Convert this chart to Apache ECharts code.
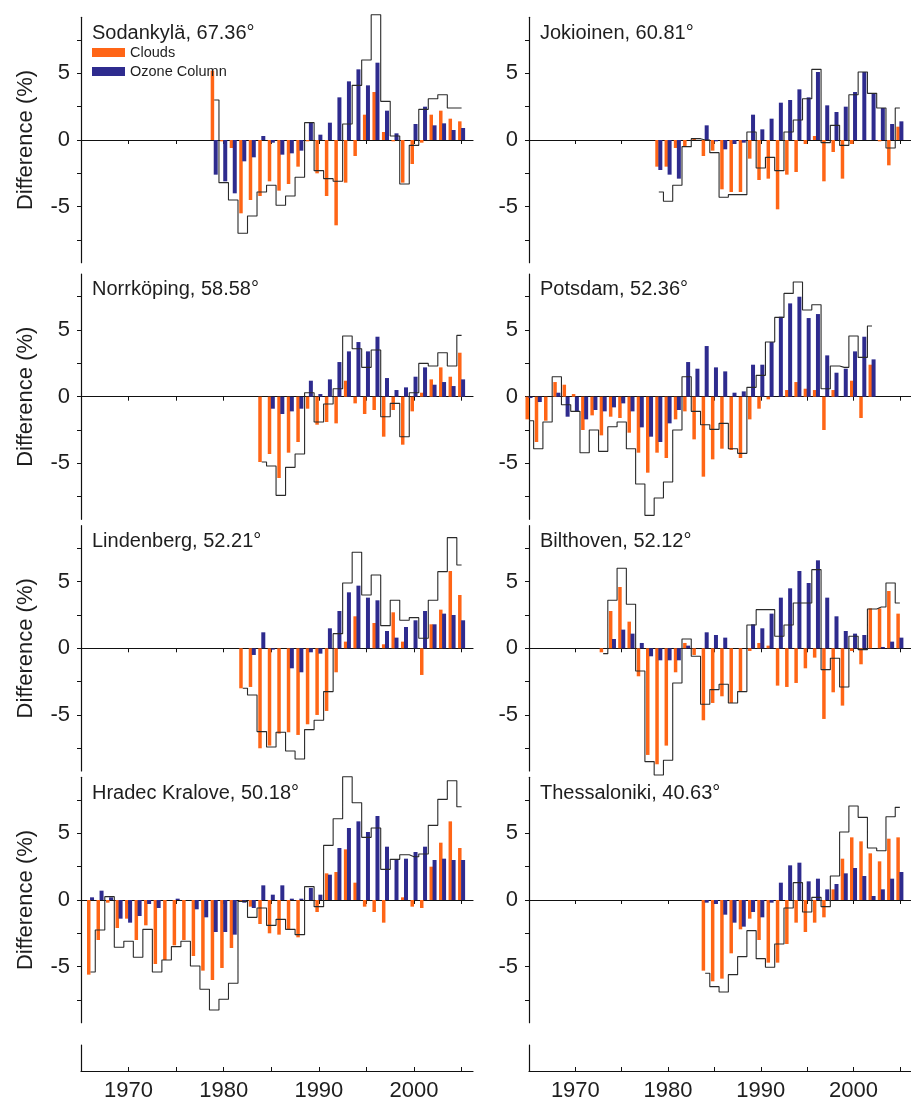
<!DOCTYPE html>
<html><head><meta charset="utf-8">
<script src="https://cdn.jsdelivr.net/npm/echarts@6/dist/echarts.min.js"></script>
<style>html,body{margin:0;padding:0;background:#fff}#c{width:911px;height:1102px}</style>
</head><body><div id="c"></div>
<script>
// ---------- data ----------
const stationNames = ['Sodankylä','Jokioinen','Norrköping','Potsdam','Lindenberg','Bilthoven','Hradec Kralove','Thessaloniki'];
const latitudes = ['67.36','60.81','58.58','52.36','52.21','52.12','50.18','40.63'];
const startYears = [1979,1979,1984,1965,1982,1973,1966,1984];
const panelTickYears = [1970,1975,1980,1985,1990,1995,2000,2005];
const xLabelYears = [1970,1980,1990,2000];
const yLabelValues = [-5,0,5];
const yTickValues = [-7.5,-5,-2.5,0,2.5,5,7.5];

const sodankylaClouds = [5.2,-0.1,-0.6,-5.5,-4.5,-4.2,-3.1,-3.8,-3.3,-2.0,-0.1,-2.5,-4.2,-6.4,-3.2,-1.2,1.9,3.6,0.6,-0.1,-3.2,-1.8,-0.2,1.9,2.2,1.6,1.4];
const sodankylaOzone  = [-2.6,-3.1,-4.0,-1.6,-1.3,0.3,-0.2,-1.1,-1.0,-0.8,1.3,0.4,1.3,3.2,4.4,5.3,4.1,5.8,2.2,0.5,0.0,1.2,2.5,1.1,1.25,0.75,0.9];
const sodankylaTotal  = [3.0,-3.2,-4.5,-7.0,-5.7,-3.9,-3.4,-4.9,-4.2,-2.8,1.3,-2.3,-2.9,-3.1,1.2,4.1,6.0,9.4,2.9,0.3,-3.3,-0.4,2.3,3.1,3.4,2.4,2.4];

const jokioinenClouds = [-2.0,-2.0,-0.6,-0.5,0.1,-1.2,-0.8,-3.7,-3.9,-3.9,-1.4,-3.0,-2.9,-5.2,-2.6,-2.4,-0.3,0.3,-3.1,-0.9,-2.9,-0.3,0.0,0.0,-0.1,-1.9,1.0];
const jokioinenOzone  = [-2.25,-2.6,-2.9,0.0,0.0,1.1,-0.1,-0.7,-0.3,-0.2,1.9,0.8,1.6,2.8,3.0,3.8,3.2,5.1,2.6,2.1,2.5,3.6,5.1,3.5,2.4,1.2,1.4];
const jokioinenTotal  = [-3.9,-4.6,-3.4,-0.5,0.1,0.0,-0.95,-4.3,-4.1,-4.1,0.6,-2.1,-1.3,-2.3,0.6,1.5,3.1,5.3,-0.2,1.1,-0.4,3.4,5.1,3.5,2.4,-0.6,2.4];

const norrkopingClouds = [-4.9,-4.3,-6.1,-4.2,-3.4,-0.9,-2.1,-1.9,-2.0,1.2,-0.5,-1.3,-1.0,-3.0,-1.0,-3.6,-1.1,0.3,1.3,2.2,1.5,3.3];
const norrkopingOzone  = [0.0,-0.9,-1.3,-1.1,-0.9,1.2,0.2,1.3,2.6,3.4,4.1,3.4,4.5,1.4,0.5,0.7,1.5,2.2,0.9,1.1,0.8,1.3];
const norrkopingTotal  = [-4.9,-5.2,-7.4,-5.3,-4.3,0.3,-1.9,-0.55,0.6,4.55,3.6,2.2,3.5,-1.5,-0.5,-3.0,0.3,2.5,2.3,3.3,2.3,4.6];

const potsdamClouds = [-1.7,-3.4,-1.8,1.1,0.9,0.2,-2.5,-1.4,-2.9,-1.5,-1.6,-2.7,-4.2,-5.7,-4.2,-4.6,-1.7,-1.1,-3.2,-6.0,-4.7,-3.9,-4.0,-4.6,-1.7,-0.9,-0.2,0.0,0.5,1.1,0.6,0.5,-2.5,0.5,0.0,1.2,-1.6,2.4];
const potsdamOzone  = [-0.1,-0.4,0.0,0.3,-1.5,-1.1,-1.7,-1.0,-1.1,-0.8,-0.5,-1.1,-2.3,-3.0,-3.4,-2.0,-1.0,2.6,2.1,3.8,2.2,1.9,0.3,0.4,2.4,2.4,4.1,6.0,7.0,7.5,5.9,6.2,3.1,1.8,2.1,3.4,4.5,2.8];
const potsdamTotal  = [-1.8,-3.9,-1.9,1.5,-0.6,-1.1,-4.2,-2.5,-4.1,-2.25,-1.9,-3.9,-6.55,-8.9,-7.6,-6.4,-2.5,1.5,-1.1,-2.1,-2.45,-2.0,-3.9,-4.25,0.7,1.6,4.1,5.95,7.75,8.6,6.5,6.9,0.6,2.3,2.2,4.55,2.95,5.3];

const lindenbergClouds = [-3.0,-2.9,-7.5,-7.3,-6.4,-6.3,-6.5,-5.7,-5.0,-4.7,-1.8,0.5,2.4,0.0,1.9,0.3,2.7,0.5,0.0,-2.0,1.8,2.9,5.8,4.0];
const lindenbergOzone  = [0.0,-0.5,1.2,-0.1,0.0,-1.5,-1.8,-0.3,-0.4,1.5,2.8,4.2,4.7,3.8,3.6,1.3,0.8,1.6,2.1,2.8,1.8,2.6,2.5,2.1];
const lindenbergTotal  = [-3.0,-3.5,-6.25,-7.4,-6.3,-7.7,-8.3,-6.1,-5.4,-3.25,1.1,4.9,7.2,4.0,5.5,1.7,3.6,2.1,2.3,0.75,3.6,5.75,8.3,6.25];

const bilthovenClouds = [-0.3,2.8,4.6,2.0,-2.1,-8.0,-8.7,-7.3,-1.8,0.4,-0.5,-5.4,-4.1,-3.6,-4.1,-3.2,-0.2,0.4,0.2,-2.8,-2.9,-2.6,-1.5,-0.7,-5.3,-3.3,-4.3,-0.2,-1.2,3.0,3.0,4.3,2.6];
const bilthovenOzone  = [0.0,0.7,1.4,1.1,0.4,-0.6,-0.9,-0.9,-0.9,0.2,0.0,1.2,1.0,0.8,0.0,0.0,1.8,1.5,2.6,3.8,4.5,5.8,4.9,6.6,3.8,2.4,1.3,1.1,1.0,0.0,0.1,0.5,0.8];
const bilthovenTotal  = [-0.4,3.6,6.0,3.3,-1.7,-8.5,-9.5,-8.4,-2.6,0.7,-0.6,-4.2,-3.1,-2.7,-4.1,-3.25,1.75,2.9,2.9,0.9,1.75,3.4,3.4,5.9,-1.6,-0.75,-2.9,0.9,-0.1,2.95,3.1,4.9,3.4];

const hradecClouds = [-5.6,-3.0,-0.2,-2.1,-1.4,-3.0,-1.9,-4.8,-4.5,-3.4,-3.0,-4.2,-5.3,-6.0,-5.1,-3.6,-0.1,-0.5,-1.8,-2.5,-2.6,-2.2,-2.8,0.0,-0.9,2.0,2.1,3.8,1.3,-0.5,-0.9,-1.7,0.0,0.2,-0.5,-0.6,2.5,4.3,5.9,3.9];
const hradecOzone  = [0.2,0.7,0.2,-1.4,-1.7,-1.2,-0.3,-0.6,0.0,0.1,0.0,-0.7,-1.3,-2.4,-2.4,-2.6,-0.2,-0.6,1.1,0.4,1.1,0.1,0.1,0.9,0.4,1.9,3.9,5.4,5.9,5.1,6.3,4.0,3.0,3.1,3.6,4.0,3.0,3.1,3.0,3.0];
const hradecTotal  = [-5.4,-2.25,0.25,-3.55,-3.1,-4.3,-2.2,-5.4,-4.5,-3.5,-3.1,-4.95,-6.7,-8.25,-7.45,-6.25,-0.1,-1.3,-0.6,-1.9,-1.45,-2.2,-2.6,1.0,-0.5,4.1,6.1,9.25,7.3,4.7,5.4,2.3,3.05,3.4,3.25,3.45,5.6,7.55,8.95,7.0];

const thessalonikiClouds = [-5.3,-6.1,-5.9,-4.0,-2.2,-1.4,-3.0,-4.7,-4.7,-3.3,-1.7,-2.4,-1.7,-1.3,0.8,3.1,4.7,4.4,3.5,2.9,4.6,4.7];
const thessalonikiOzone  = [-0.2,-0.3,-1.1,-1.7,-2.0,-0.9,-1.3,-0.2,1.3,2.6,2.8,1.4,1.6,0.8,1.2,2.0,2.4,1.8,0.3,0.8,1.6,2.1];
const thessalonikiTotal  = [-5.5,-6.5,-6.9,-5.6,-4.25,-2.3,-4.4,-5.05,-3.3,-0.6,1.3,-0.9,0.2,-0.5,1.8,5.1,7.05,6.2,3.9,3.7,6.25,6.95];

const cloudSeries = [sodankylaClouds,jokioinenClouds,norrkopingClouds,potsdamClouds,lindenbergClouds,bilthovenClouds,hradecClouds,thessalonikiClouds];
const ozoneSeries = [sodankylaOzone,jokioinenOzone,norrkopingOzone,potsdamOzone,lindenbergOzone,bilthovenOzone,hradecOzone,thessalonikiOzone];
const totalSeries = [sodankylaTotal,jokioinenTotal,norrkopingTotal,potsdamTotal,lindenbergTotal,bilthovenTotal,hradecTotal,thessalonikiTotal];

// ---------- layout ----------
const FONT = '"Liberation Sans", Arial, sans-serif';
const TXT = '#1e1e1e';
const ORANGE = '#FF6516';
const BLUE = '#2E2B8E';
const colLeft = [81, 529];
const plotW = 392;
const zeroY = [140, 396.7, 648.3, 900];
const yMin = -9.2, yMax = 9.2;
const pxPerUnit = 13.33;
const halfH = yMax * pxPerUnit;

const pairs = (start, arr) => arr.map((v, i) => [start + i, v]);

const grids = [], xAxes = [], yAxes = [], series = [], titles = [];

stationNames.forEach((name, i) => {
  const col = i % 2, row = Math.floor(i / 2);
  grids.push({left: colLeft[col], top: zeroY[row] - halfH, width: plotW, height: 2 * halfH, containLabel: false});
  xAxes.push({
    type: 'value', gridIndex: i, min: 1965, max: 2006.2,
    axisLine: {show: true, onZero: true, lineStyle: {color: '#111', width: 1.2}},
    axisTick: {show: true, customValues: panelTickYears, length: 4, inside: false, lineStyle: {color: '#111'}},
    axisLabel: {show: false}, splitLine: {show: false}
  });
  yAxes.push({
    type: 'value', gridIndex: i, min: yMin, max: yMax,
    name: col === 0 ? 'Difference (%)' : '', nameLocation: 'middle', nameGap: 44,
    nameTextStyle: {fontSize: 22, color: TXT, fontFamily: FONT},
    axisLine: {show: true, onZero: false, lineStyle: {color: '#111', width: 1.2}},
    axisTick: {show: true, customValues: yTickValues, length: 4, inside: false, lineStyle: {color: '#111'}},
    axisLabel: {show: true, customValues: yLabelValues, fontSize: 22, color: TXT, fontFamily: FONT, margin: 11,
                formatter: v => String(v)},
    splitLine: {show: false}
  });
  titles.push({
    text: name + ', ' + latitudes[i] + '°',
    left: colLeft[col] + 11, top: zeroY[row] - 119, padding: 0,
    textStyle: {fontSize: 20, fontWeight: 'normal', color: TXT, fontFamily: FONT, lineHeight: 24}
  });
  series.push({
    name: 'Clouds', type: 'bar', xAxisIndex: i, yAxisIndex: i,
    data: pairs(startYears[i], cloudSeries[i]), barWidth: 3.5, barGap: '-13%',
    itemStyle: {color: ORANGE}, z: 2
  });
  series.push({
    name: 'Ozone Column', type: 'bar', xAxisIndex: i, yAxisIndex: i,
    data: pairs(startYears[i], ozoneSeries[i]), barWidth: 4, barGap: '-13%',
    itemStyle: {color: BLUE}, z: 3
  });
  series.push({
    name: 'Total', type: 'line', xAxisIndex: i, yAxisIndex: i,
    data: pairs(startYears[i], totalSeries[i]), step: 'middle', symbol: 'none', showSymbol: false,
    clip: false, lineStyle: {color: '#2a2a2a', width: 1.1}, z: 4
  });
});

// bottom axis panels
[0, 1].forEach(col => {
  const gi = grids.length;
  grids.push({left: colLeft[col], top: 1045, width: plotW, height: 28});
  xAxes.push({
    type: 'value', gridIndex: gi, min: 1965, max: 2006.2, position: 'bottom',
    axisLine: {show: true, onZero: false, lineStyle: {color: '#111', width: 1.2}},
    axisTick: {show: true, customValues: panelTickYears, length: 4, inside: true, lineStyle: {color: '#111'}},
    axisLabel: {show: true, customValues: xLabelYears, fontSize: 22, color: TXT, fontFamily: FONT, margin: 9,
                formatter: v => String(v)},
    splitLine: {show: false}
  });
  yAxes.push({
    type: 'value', gridIndex: gi, min: 0, max: 1,
    axisLine: {show: true, lineStyle: {color: '#111', width: 1.2}},
    axisTick: {show: false}, axisLabel: {show: false}, splitLine: {show: false}
  });
});

const chart = echarts.init(document.getElementById('c'), null, {renderer: 'canvas'});
chart.setOption({
  animation: false,
  backgroundColor: '#ffffff',
  title: titles,
  legend: {
    data: ['Clouds', 'Ozone Column'], orient: 'vertical', left: 92, top: 45, padding: 0,
    icon: 'rect', itemWidth: 33, itemHeight: 9, itemGap: 4,
    textStyle: {fontSize: 14.5, color: TXT, fontFamily: FONT, padding: [0, 0, 0, 0]}
  },
  grid: grids, xAxis: xAxes, yAxis: yAxes, series: series
});
</script></body></html>
